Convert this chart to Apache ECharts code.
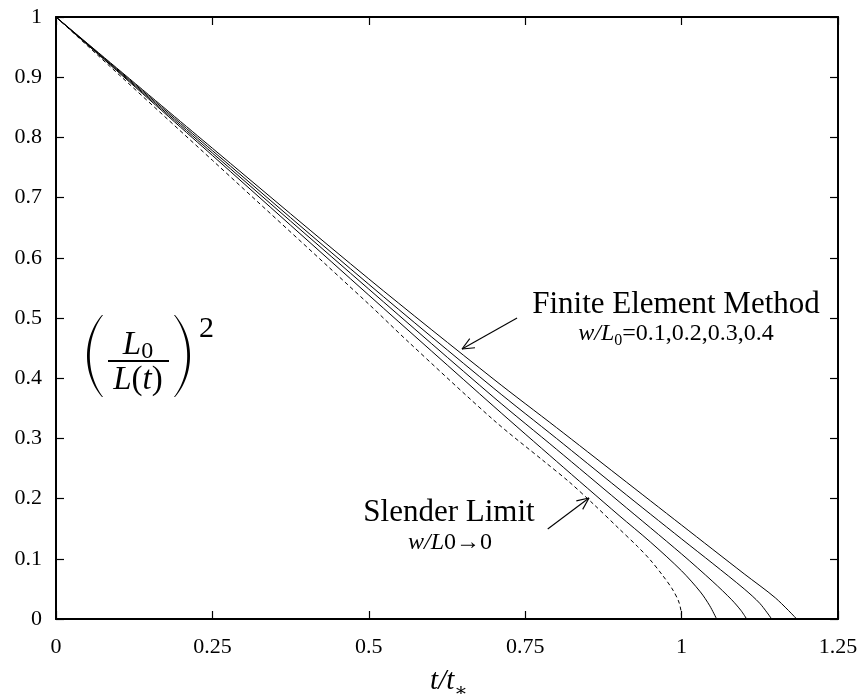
<!DOCTYPE html>
<html>
<head>
<meta charset="utf-8">
<script src="https://cdn.jsdelivr.net/npm/echarts@6/dist/echarts.min.js"></script>
<style>html,body{margin:0;padding:0;background:#fff}#c{width:863px;height:694px}</style>
</head>
<body>
<div id="c"></div>
<script>
// ---- data ----
const xTicks = [0, 0.25, 0.5, 0.75, 1, 1.25];
const yTicks = [0, 0.1, 0.2, 0.3, 0.4, 0.5, 0.6, 0.7, 0.8, 0.9, 1];
const slenderT = [0, 0.25, 0.5, 0.56, 0.7, 0.78, 0.82, 0.86, 0.9, 0.93, 0.95, 0.97, 0.985, 0.995, 0.999, 1.0];
const slenderY = [1, 0.762, 0.523, 0.4635, 0.33, 0.262, 0.228, 0.19, 0.15, 0.12, 0.098, 0.072, 0.05, 0.03, 0.014, 0];
const fem01T = [0, 0.25, 0.5, 0.7, 0.8, 0.9, 0.95, 1.0, 1.03, 1.045, 1.056];
const fem01Y = [1, 0.77, 0.538, 0.353, 0.262, 0.172, 0.128, 0.08, 0.045, 0.022, 0];
const fem02T = [0, 0.25, 0.5, 0.7, 0.8, 0.9, 1.0, 1.05, 1.08, 1.095, 1.104];
const fem02Y = [1, 0.774, 0.548, 0.368, 0.282, 0.195, 0.108, 0.062, 0.032, 0.014, 0];
const fem03T = [0, 0.25, 0.5, 0.7, 0.8, 0.9, 1.0, 1.05, 1.1, 1.125, 1.144];
const fem03Y = [1, 0.778, 0.556, 0.383, 0.3, 0.216, 0.133, 0.092, 0.05, 0.026, 0];
const fem04T = [0, 0.25, 0.5, 0.7, 0.8, 0.9, 1.0, 1.1, 1.15, 1.184];
const fem04Y = [1, 0.782, 0.565, 0.398, 0.318, 0.237, 0.156, 0.075, 0.035, 0];

const pairs = (xs, ys) => xs.map((x, i) => [x, ys[i]]);
const SERIF = '"Liberation Serif", "DejaVu Serif", serif';

const chart = echarts.init(document.getElementById('c'), null, {renderer: 'canvas'});

const axisCommon = {
  axisLine: {show: true, onZero: false, lineStyle: {color: '#000', width: 2}},
  axisTick: {show: true, inside: true, length: 8, lineStyle: {color: '#000', width: 1.2}},
  splitLine: {show: false}
};

function femSeries(name, t, y) {
  return {name, type: 'line', data: pairs(t, y), showSymbol: false, smooth: 0.3,
    lineStyle: {color: '#000', width: 1}, xAxisIndex: 0, yAxisIndex: 0, z: 3};
}

chart.setOption({
  animation: false,
  backgroundColor: '#fff',
  grid: {left: 56, right: 25, top: 17, bottom: 75, containLabel: false},
  xAxis: [
    Object.assign({type: 'value', min: 0, max: 1.25, interval: 0.25, position: 'bottom',
      axisLabel: {show: true, color: '#000', fontFamily: SERIF, fontSize: 22, margin: 17,
        formatter: v => String(+v.toFixed(2))}}, axisCommon),
    Object.assign({type: 'value', min: 0, max: 1.25, interval: 0.25, position: 'top',
      axisLabel: {show: false}}, axisCommon)
  ],
  yAxis: [
    Object.assign({type: 'value', min: 0, max: 1, interval: 0.1, position: 'left',
      axisLabel: {show: true, color: '#000', fontFamily: SERIF, fontSize: 22, margin: 14,
        formatter: v => String(+v.toFixed(1))}}, axisCommon),
    Object.assign({type: 'value', min: 0, max: 1, interval: 0.1, position: 'right',
      axisLabel: {show: false}}, axisCommon)
  ],
  series: [
    {name: 'Slender Limit', type: 'line', data: pairs(slenderT, slenderY), showSymbol: false, smooth: 0.3,
      lineStyle: {color: '#000', width: 1, type: [4, 3]}, z: 3},
    femSeries('w/L0=0.1', fem01T, fem01Y),
    femSeries('w/L0=0.2', fem02T, fem02Y),
    femSeries('w/L0=0.3', fem03T, fem03Y),
    femSeries('w/L0=0.4', fem04T, fem04Y)
  ]
});

// ---- annotations ----
const mctx = document.createElement('canvas').getContext('2d');
function tw(text, font) { mctx.font = font; return mctx.measureText(text).width; }
function runs(pieces, cx, y, align) {
  const total = pieces.reduce((s, p) => s + tw(p[0], p[1]), 0);
  let x = align === 'center' ? cx - total / 2 : cx;
  return pieces.map(p => {
    const el = {type: 'text', x: x, y: y + (p[2] || 0), z: 10,
      style: {text: p[0], font: p[1], fill: '#000', align: 'left', verticalAlign: 'bottom'}};
    x += tw(p[0], p[1]);
    return el;
  });
}
const F = (size, style) => (style || '') + ' ' + size + 'px ' + SERIF;

function arrow(from, to) {
  const a = chart.convertToPixel({gridIndex: 0}, from);
  const b = chart.convertToPixel({gridIndex: 0}, to);
  const ang = Math.atan2(a[1] - b[1], a[0] - b[0]);
  const L = 13, spread = 0.42;
  const ls = {stroke: '#000', lineWidth: 1.1};
  return [
    {type: 'line', shape: {x1: a[0], y1: a[1], x2: b[0], y2: b[1]}, style: ls, z: 10},
    {type: 'line', shape: {x1: b[0], y1: b[1], x2: b[0] + L * Math.cos(ang + spread), y2: b[1] + L * Math.sin(ang + spread)}, style: ls, z: 10},
    {type: 'line', shape: {x1: b[0], y1: b[1], x2: b[0] + L * Math.cos(ang - spread), y2: b[1] + L * Math.sin(ang - spread)}, style: ls, z: 10}
  ];
}

const els = [];
// Finite Element Method label
els.push(...runs([['Finite Element Method', F(31)]], 676, 320, 'center'));
els.push(...runs([['w/L', F(24, 'italic')], ['0', F(16), 3], ['=0.1,0.2,0.3,0.4', F(24)]], 676, 346, 'center'));
// Slender limit label
els.push(...runs([['Slender Limit', F(31)]], 449, 528, 'center'));
els.push(...runs([['w/L', F(24, 'italic')], ['0\u21920', F(24)]], 450, 555, 'center'));
// arrows (anchored in data coordinates)
els.push(...arrow([0.737, 0.5], [0.649, 0.4485]));
els.push(...arrow([0.786, 0.1495], [0.852, 0.201]));
// x axis name t/t*
els.push(...runs([['t/t', F(29, 'italic')], ['\u2217', F(20), 6]], 449, 696, 'center'));

// y-axis label (L0 / L(t))^2
function bez(p0, p1, p2, p3, n) {
  const out = [];
  for (let i = 0; i <= n; i++) {
    const t = i / n, u = 1 - t;
    out.push([u*u*u*p0[0] + 3*u*u*t*p1[0] + 3*u*t*t*p2[0] + t*t*t*p3[0],
              u*u*u*p0[1] + 3*u*u*t*p1[1] + 3*u*t*t*p2[1] + t*t*t*p3[1]]);
  }
  return out;
}
function paren(x0, top, bot, dir) {
  const h = bot - top, bulge = 20 * dir, thick = 3.4 * dir;
  const outer = bez([x0, top], [x0 - bulge, top + h * 0.28], [x0 - bulge, bot - h * 0.28], [x0, bot], 30);
  const inner = bez([x0 + 1 * dir, bot], [x0 - bulge + thick, bot - h * 0.28], [x0 - bulge + thick, top + h * 0.28], [x0 + 1 * dir, top], 30);
  return {type: 'polygon', shape: {points: outer.concat(inner)}, style: {fill: '#000'}, z: 10};
}
els.push(paren(102, 315, 397, 1));
els.push(paren(175, 315, 397, -1));
els.push(...runs([['L', F(33, 'italic')], ['0', F(24), 2]], 138, 362, 'center'));
els.push({type: 'rect', shape: {x: 108, y: 360, width: 61, height: 2}, style: {fill: '#000'}, z: 10});
els.push(...runs([['L', F(33, 'italic')], ['(', F(33)], ['t', F(33, 'italic')], [')', F(33)]], 138, 397, 'center'));
els.push(...runs([['2', F(30)]], 199, 344, 'left'));

chart.setOption({graphic: {elements: els}});
</script>
</body>
</html>
